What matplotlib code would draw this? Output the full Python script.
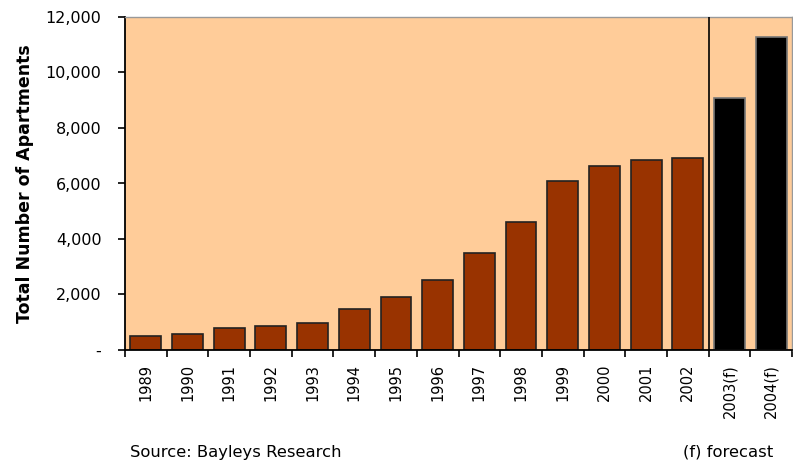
import matplotlib.pyplot as plt
from matplotlib.ticker import FuncFormatter, FixedLocator

years = ["1989", "1990", "1991", "1992", "1993", "1994", "1995", "1996",
         "1997", "1998", "1999", "2000", "2001", "2002", "2003(f)", "2004(f)"]
apartments = [500, 565, 790, 865, 985, 1465, 1900, 2520,
              3495, 4610, 6090, 6630, 6860, 6930, 9090, 11290]
forecast = [False] * 14 + [True, True]

plt.rcParams['font.family'] = ['DejaVu Sans']

fig = plt.figure(figsize=(7.93, 4.61), dpi=100)
ax = fig.add_axes([125 / 793, 1 - 350 / 461, 667 / 793, 333 / 461])
ax.set_facecolor("#FFCC99")

x = list(range(len(years)))
colors = ["black" if f else "#993300" for f in forecast]
edges = ["#777777" if f else "#222222" for f in forecast]
ax.bar(x, apartments, width=0.74, color=colors, edgecolor=edges, linewidth=1.2, zorder=2)

# divider between actuals and forecast
n_actual = forecast.index(True)
ax.axvline(n_actual - 0.5, color="black", linewidth=1.2, zorder=3)

ax.set_xlim(-0.5, len(years) - 0.5)
ax.set_ylim(0, 12000)
ax.set_yticks(range(0, 12001, 2000))
ax.yaxis.set_major_formatter(FuncFormatter(lambda v, p: "-" if v == 0 else f"{int(v):,}"))

# category ticks sit between bars, labels in the middle
ax.set_xticks(x)
ax.set_xticklabels(years, rotation=90, fontsize=10.5)
ax.xaxis.set_minor_locator(FixedLocator([i - 0.5 for i in range(len(years) + 1)]))
ax.tick_params(axis="x", which="major", length=0, pad=10)
ax.tick_params(axis="x", which="minor", length=5, width=1.2, direction="out")
ax.tick_params(axis="y", length=5, width=1.2, direction="out", labelsize=11.5, pad=12)

for side in ["left", "bottom"]:
    ax.spines[side].set_color("black")
    ax.spines[side].set_linewidth(1.3)
for side in ["top", "right"]:
    ax.spines[side].set_color("#999999")
    ax.spines[side].set_linewidth(1.0)

ax.set_ylabel("Total Number of Apartments", fontsize=12.5, fontweight="bold", labelpad=8)

fig.text(130 / 793, 1 - 452 / 461, "Source: Bayleys Research", fontsize=11.8, va="center")
fig.text(683 / 793, 1 - 452 / 461, "(f) forecast", fontsize=11.8, va="center")

fig.savefig("out.png", dpi=100)
